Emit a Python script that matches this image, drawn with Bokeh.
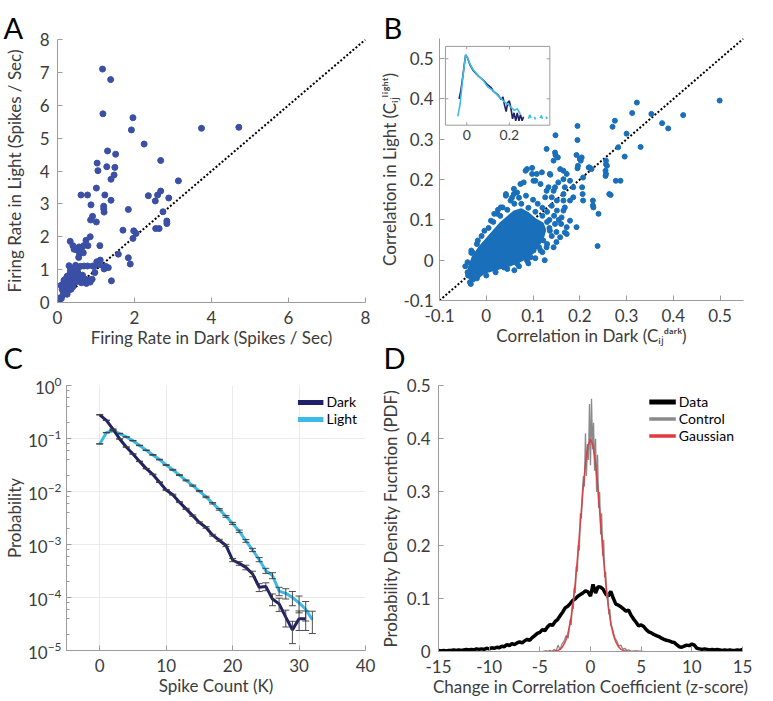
import numpy as np
from bokeh.plotting import figure
from bokeh.models import (Range1d, FixedTicker, LogTicker, CustomJSTickFormatter, GridBox,
                          Legend, LegendItem, Whisker, TeeHead, ColumnDataSource)
from bokeh.core.properties import value
from bokeh.embed import file_html
from bokeh.resources import INLINE

NaN = float("nan")

# ---------------- Panel A: firing rates ----------------
A_dark = [1.17, 1.38, 1.18, 1.96, 1.92, 3.74, 4.71, 2.25, 1.30, 1.51, 1.03, 2.68, 1.28, 1.49, 1.05,
          1.47, 1.39, 3.14, 1.01, 0.61, 0.78, 1.23, 0.87, 1.20, 1.20, 1.21, 1.39, 0.91, 0.86, 1.01,
          1.84, 2.36, 2.54, 2.60, 2.68, 2.89, 2.74, 2.84, 2.84, 2.55, 2.64, 1.70, 1.98, 2.04, 1.96,
          1.58, 1.84, 1.89, 1.40, 0.33, 0.40, 0.43, 0.85, 0.74, 1.10, 0.56, 0.68, 0.79, 0.63, 0.57,
          0.55, 0.67, 1.11, 1.02, 0.91, 0.78, 0.69, 0.47, 0.38, 0.33, 0.33, 0.36, 0.48, 0.55, 0.65,
          0.74, 0.83, 0.90, 0.97, 1.05, 1.32, 1.21, 0.17, 0.14, 0.21, 0.27, 0.33, 0.12, 0.20, 0.28,
          0.40, 0.49, 0.08, 0.18, 0.09, 0.30, 0.35, 0.42, 0.45, 0.52, 0.25, 0.22, 0.30, 0.38, 0.45,
          0.58, 0.62, 0.70, 0.75, 0.85, 0.20, 0.15, 0.05, 0.10, 0.25, 0.35, 0.60, 0.95, 1.10, 1.25,
          0.50, 0.62]
A_light = [7.10, 6.78, 5.74, 5.62, 5.25, 5.30, 5.33, 4.82, 4.61, 4.51, 4.24, 4.32, 4.13, 4.11, 4.01,
           3.88, 3.75, 3.70, 3.48, 3.27, 3.27, 3.27, 2.97, 2.93, 2.85, 2.75, 3.11, 2.62, 2.51, 2.45,
           2.83, 3.25, 3.09, 3.27, 3.39, 3.18, 2.76, 2.48, 2.40, 2.25, 2.25, 2.20, 2.18, 2.10, 1.95,
           1.47, 1.36, 1.17, 0.66, 1.86, 1.73, 1.62, 2.00, 1.89, 1.73, 1.69, 1.73, 1.73, 1.55, 1.49,
           1.37, 1.51, 1.29, 1.24, 1.11, 1.11, 1.11, 1.13, 1.02, 1.06, 0.92, 0.76, 0.78, 0.86, 0.83,
           0.70, 0.68, 0.71, 0.91, 1.20, 1.06, 1.02, 0.68, 0.56, 0.48, 0.60, 0.68, 0.40, 0.33, 0.37,
           0.48, 0.63, 0.15, 0.27, 0.52, 1.12, 0.98, 0.88, 1.05, 0.95, 0.80, 0.72, 0.55, 0.60, 0.70,
           0.70, 0.60, 0.62, 0.58, 0.62, 0.45, 0.30, 0.08, 0.12, 0.25, 0.40, 1.10, 1.10, 1.15, 1.10,
           1.60, 1.65]
A_unity = [0, 8]
A_xticks = [0, 2, 4, 6, 8]
A_yticks = [0, 1, 2, 3, 4, 5, 6, 7, 8]

# ---------------- Panel B: pairwise correlations ----------------
B_dark = [0.195, 0.148, 0.195, 0.129, 0.148, 0.153, 0.193, 0.204, 0.202, 0.195, 0.219, 0.225, 0.207,
          0.205, 0.206, 0.228, 0.229, 0.240, 0.238, 0.256, 0.258, 0.255, 0.255, 0.266, 0.277, 0.287,
          0.270, 0.275, 0.282, 0.296, 0.300, 0.312, 0.322, 0.330, 0.353, 0.376, 0.389, 0.421, 0.499,
          0.087, 0.098, 0.108, 0.119, 0.105, 0.136, 0.165, 0.172, 0.179, 0.168, 0.154, 0.147, 0.129,
          0.140, 0.165, 0.179, 0.186, 0.168, 0.151, 0.161, 0.172, 0.168, 0.136, 0.147, 0.122, 0.113,
          0.101, 0.087, -0.032, -0.035, -0.033, 0.080, 0.059, 0.042, 0.035, 0.024, -0.004,
          0.084, 0.098, 0.137, 0.144, 0.147, 0.158, 0.165, 0.186, 0.196, 0.200, 0.207, 0.221, 0.228,
          0.256, 0.263, 0.256, 0.042, 0.066, 0.017, 0.031, 0.010, -0.018, -0.032, -0.039, 0.151,
          0.165, 0.179, 0.193, 0.172, 0.158, 0.144, 0.116, 0.129, 0.095, 0.066, 0.038, 0.165, 0.126,
          0.144, 0.133, 0.116, 0.101, 0.073, 0.059, 0.052,
          0.130, 0.135, 0.140, 0.130, 0.120, 0.105, 0.090, 0.070, 0.045, 0.020, 0.000, -0.020,
          -0.040, -0.040, -0.030, -0.020, -0.010, 0.005, 0.015, 0.030, 0.045, 0.060, 0.075, 0.090,
          0.105, 0.120, 0.135, 0.145, 0.120, 0.100, 0.085, 0.070, 0.150, 0.150, 0.125, 0.060,
          -0.025, 0.130, 0.110, 0.055, 0.025, -0.045, 0.160, 0.155, 0.140]
B_light = [0.333, 0.310, 0.298, 0.276, 0.261, 0.255, 0.261, 0.255, 0.247, 0.228, 0.230, 0.226, 0.205,
           0.181, 0.164, 0.148, 0.131, 0.115, 0.035, 0.247, 0.234, 0.222, 0.209, 0.162, 0.197, 0.197,
           0.331, 0.346, 0.280, 0.257, 0.314, 0.365, 0.391, 0.281, 0.363, 0.340, 0.327, 0.360, 0.396,
           0.226, 0.214, 0.214, 0.218, 0.197, 0.214, 0.222, 0.214, 0.197, 0.181, 0.193, 0.181, 0.172,
           0.156, 0.148, 0.148, 0.156, 0.131, 0.123, 0.106, 0.065, 0.069, 0.073, 0.090, 0.049, 0.032,
           0.024, -0.001, 0.018, -0.055, -0.059, 0.193, 0.164, 0.160, 0.131, 0.115, 0.073,
           0.222, 0.229, 0.212, 0.247, 0.267, 0.226, 0.201, 0.181, 0.234, 0.251, 0.148, 0.230, 0.136,
           0.238, 0.164, 0.214, 0.164, 0.168, 0.115, 0.131, 0.098, 0.049, 0.024, -0.038, 0.148,
           0.123, 0.098, 0.082, 0.082, 0.057, 0.032, 0.024, 0.032, 0.007, -0.009, -0.018, 0.164, 0.156,
           0.172, 0.181, 0.189, 0.197, 0.189, 0.177, 0.148,
           0.095, 0.080, 0.060, 0.040, 0.020, 0.005, -0.008, -0.015, -0.022, -0.030, -0.038, -0.045,
           -0.030, -0.005, 0.020, 0.040, 0.060, 0.080, 0.095, 0.110, 0.125, 0.140, 0.140, 0.130,
           0.120, 0.110, 0.100, 0.110, 0.130, 0.150, 0.160, 0.155, 0.070, 0.045, 0.000, -0.025,
           -0.010, 0.120, 0.140, 0.155, 0.125, -0.015, 0.090, 0.100, 0.135]
# outline of the saturated core of the cloud
B_core_dark = [-0.035, -0.028, -0.005, 0.020, 0.050, 0.075, 0.095, 0.110, 0.120, 0.125, 0.120,
               0.105, 0.090, 0.075, 0.060, 0.045, 0.030, 0.015, 0.000, -0.015, -0.028, -0.037]
B_core_light = [-0.045, -0.052, -0.030, -0.022, -0.012, 0.000, 0.015, 0.035, 0.055, 0.075, 0.090,
                0.100, 0.115, 0.125, 0.120, 0.105, 0.090, 0.070, 0.050, 0.030, 0.008, -0.020]
B_unity = [-0.1, 0.55]
B_ticks = [-0.1, 0, 0.1, 0.2, 0.3, 0.4, 0.5]

# inset: distribution of correlations (log10 probability)
inset_c_dark = [-0.036, -0.028, -0.020, -0.011, -0.005, 0.003, 0.015, 0.031, 0.054, 0.077, 0.100,
                0.115, 0.123, 0.146, 0.162, 0.170, 0.177, 0.185, 0.192, 0.200, 0.208, 0.215, 0.222,
                0.230, 0.237, 0.245, 0.252, 0.260, 0.267]
inset_logp_dark = [-2.00, -1.80, -1.50, -1.12, -0.90, -0.97, -1.15, -1.30, -1.43, -1.53, -1.66, -1.72,
                   -1.80, -1.90, -2.02, -1.95, -2.15, -2.32, -2.10, -2.05, -2.25, -2.50, -2.35, -2.55,
                   -2.35, -2.55, -2.40, -2.55, -2.45]
inset_c_light = [-0.042, -0.031, -0.020, -0.011, -0.005, 0.003, 0.015, 0.031, 0.054, 0.077, 0.100,
                 0.123, 0.146, 0.162, 0.177, 0.192, 0.208, 0.223, 0.238, 0.251, NaN, 0.290, 0.296,
                 0.302, NaN, 0.318, 0.322, NaN, 0.345, 0.350, 0.355, NaN, 0.372, 0.378]
inset_logp_light = [-2.44, -2.13, -1.54, -1.13, -0.90, -0.96, -1.13, -1.28, -1.42, -1.54, -1.71,
                    -1.79, -1.92, -2.00, -2.08, -2.13, -2.21, -2.29, -2.25, -2.38, NaN, -2.50, -2.40,
                    -2.48, NaN, -2.45, -2.52, NaN, -2.48, -2.42, -2.50, NaN, -2.45, -2.50]
inset_xticks = [0, 0.2]
inset_xticklabels = ["0", "0.2"]
inset_yticks = [-1, -2]
inset_xlim = [-0.1, 0.39]
inset_ylim = [-2.66, -0.69]

# ---------------- Panel C: spike count distribution ----------------
C_k_dark = [0, 1, 2, 3, 4, 5, 6, 7, 8, 9, 10, 11, 12, 13, 14, 15, 16, 17, 18, 19, 20, 21, 22, 23,
            24, 25, 26, 27, 28, 29, 30, 31]
C_p_dark = [0.28, 0.22, 0.15, 0.098, 0.069, 0.051, 0.037, 0.027, 0.021, 0.015, 0.0107, 0.0087,
            0.0063, 0.0047, 0.0035, 0.0026, 0.0021, 0.0015, 0.0012, 0.00096, 0.00051, 0.00044,
            0.00037, 0.00028, 0.000156, 0.000162, 0.0000934, 0.0000759, 0.0000427, 0.0000245,
            0.0000398, 0.0000398]
C_relerr_dark = [0.01, 0.01, 0.01, 0.01, 0.01, 0.01, 0.01, 0.01, 0.015, 0.015, 0.02, 0.02, 0.02,
                 0.025, 0.03, 0.03, 0.035, 0.04, 0.045, 0.05, 0.07, 0.08, 0.1, 0.12, 0.17, 0.17,
                 0.25, 0.28, 0.35, 0.45, 0.4, 0.4]
C_k_light = [0, 1, 2, 3, 4, 5, 6, 7, 8, 9, 10, 11, 12, 13, 14, 15, 16, 17, 18, 19, 20, 21, 22, 23,
             24, 25, 26, 27, 28, 29, 30, 31, 32]
C_p_light = [0.079, 0.129, 0.14, 0.124, 0.107, 0.091, 0.074, 0.060, 0.049, 0.040, 0.0316, 0.0257,
             0.0204, 0.0162, 0.0129, 0.0102, 0.0079, 0.0060, 0.0046, 0.0034, 0.0025, 0.00178,
             0.00117, 0.00079, 0.00052, 0.00032, 0.00026, 0.000132, 0.00012, 0.0001, 0.000079,
             0.00006, 0.000038]
C_relerr_light = [0.01, 0.01, 0.01, 0.01, 0.01, 0.01, 0.01, 0.01, 0.015, 0.015, 0.015, 0.02, 0.02,
                  0.02, 0.025, 0.025, 0.03, 0.03, 0.035, 0.04, 0.045, 0.05, 0.06, 0.07, 0.09, 0.11,
                  0.13, 0.18, 0.22, 0.3, 0.35, 0.4, 0.45]
C_xticks = [0, 10, 20, 30, 40]

# ---------------- Panel D: change in correlation (z-score) ----------------
D_data_z = [-15.0, -14.75, -14.5, -14.25, -14.0, -13.75, -13.5, -13.25, -13.0, -12.75, -12.5, -12.25,
            -12.0, -11.75, -11.5, -11.25, -11.0, -10.75, -10.5, -10.25, -10.0, -9.75, -9.5, -9.25,
            -9.0, -8.75, -8.5, -8.25, -8.0, -7.75, -7.5, -7.25, -7.0, -6.75, -6.5, -6.25, -6.0,
            -5.75, -5.5, -5.25, -5.0, -4.75, -4.5, -4.25, -4.0, -3.75, -3.5, -3.25, -3.0, -2.75,
            -2.5, -2.25, -2.0, -1.75, -1.5, -1.25, -1.0, -0.75, -0.5, -0.25, 0.0, 0.25, 0.5, 0.75,
            1.0, 1.25, 1.5, 1.75, 2.0, 2.25, 2.5, 2.75, 3.0, 3.25, 3.5, 3.75, 4.0, 4.25, 4.5, 4.75,
            5.0, 5.25, 5.5, 5.75, 6.0, 6.25, 6.5, 6.75, 7.0, 7.25, 7.5, 7.75, 8.0, 8.25, 8.5, 8.75,
            9.0, 9.25, 9.5, 9.75, 10.0, 10.25, 10.5, 10.75, 11.0, 11.25, 11.5, 11.75, 12.0, 12.25,
            12.5, 12.75, 13.0, 13.25, 13.5, 13.75, 14.0, 14.25, 14.5, 14.75, 15.0]
D_data_pdf = [0.002, 0.001, 0.002, 0.001, 0.002, 0.002, 0.003, 0.002, 0.003, 0.002, 0.003, 0.004,
              0.003, 0.004, 0.003, 0.005, 0.004, 0.005, 0.004, 0.006, 0.005,
              0.007, 0.006, 0.008, 0.007, 0.010, 0.009, 0.013, 0.011, 0.015, 0.013, 0.016, 0.018,
              0.016, 0.020, 0.023, 0.021, 0.026, 0.030, 0.034, 0.036,
              0.041, 0.039, 0.046, 0.051, 0.049, 0.056, 0.060, 0.067, 0.074, 0.082, 0.085, 0.090,
              0.096, 0.099, 0.104, 0.107, 0.110, 0.114, 0.112, 0.104,
              0.126, 0.110, 0.122, 0.121, 0.117, 0.108, 0.104, 0.113, 0.100, 0.089, 0.087, 0.084,
              0.080, 0.076, 0.078, 0.068, 0.061, 0.055, 0.048, 0.050,
              0.047, 0.041, 0.037, 0.035, 0.032, 0.030, 0.028, 0.025, 0.023, 0.021, 0.020, 0.018,
              0.017, 0.013, 0.009, 0.008, 0.010, 0.012, 0.011, 0.014,
              0.012, 0.006, 0.005, 0.004, 0.005, 0.004, 0.003, 0.004, 0.003, 0.004, 0.003, 0.002,
              0.003, 0.002, 0.003, 0.002, 0.002, 0.003, 0.002, 0.004]
D_ctrl_z = [-4.6, -4.4, -4.2, -4.0, -3.8, -3.6, -3.4, -3.2, -3.0, -2.8, -2.6, -2.4, -2.2, -2.0,
            -1.9, -1.8, -1.7, -1.6, -1.5, -1.4, -1.3, -1.2, -1.1, -1.0, -0.9, -0.8, -0.7, -0.6,
            -0.5, -0.4, -0.3, -0.2, -0.1, 0.0, 0.1, 0.2, 0.3, 0.4, 0.5, 0.6, 0.7, 0.8, 0.9, 1.0,
            1.1, 1.2, 1.3, 1.4, 1.5, 1.6, 1.7, 1.8, 1.9, 2.0, 2.2, 2.4, 2.6, 2.8, 3.0, 3.2, 3.4,
            3.6, 3.8, 4.0, 4.4, 5.0]
D_ctrl_pdf = [0.000, 0.001, 0.000, 0.002, 0.000, 0.004, 0.001, 0.012, 0.003, 0.015, 0.020, 0.030,
              0.025, 0.060, 0.050, 0.090, 0.080, 0.120, 0.110, 0.160, 0.150, 0.200, 0.190, 0.260,
              0.250, 0.300, 0.330, 0.310, 0.410, 0.330, 0.390, 0.360, 0.465, 0.350, 0.475, 0.380,
              0.430, 0.340, 0.400, 0.300, 0.370, 0.270, 0.300, 0.220, 0.260, 0.180, 0.210, 0.140,
              0.150, 0.100, 0.110, 0.070, 0.080, 0.050, 0.040, 0.025, 0.020, 0.010, 0.012, 0.004,
              0.006, 0.002, 0.003, 0.000, 0.001, 0.000]
D_gauss_z = [-4.75, -4.5, -4.25, -4.0, -3.75, -3.5, -3.25, -3.0, -2.75, -2.5, -2.25, -2.0, -1.75,
             -1.5, -1.25, -1.0, -0.75, -0.5, -0.25, 0.0, 0.25, 0.5, 0.75, 1.0, 1.25, 1.5, 1.75, 2.0,
             2.25, 2.5, 2.75, 3.0, 3.25, 3.5, 3.75, 4.0, 4.25, 4.5, 4.75, 5.0, 5.25]
D_gauss_pdf = [0.000, 0.000, 0.000, 0.000, 0.000, 0.001, 0.002, 0.004, 0.009, 0.018, 0.032, 0.054,
               0.086, 0.130, 0.183, 0.242, 0.301, 0.352, 0.387, 0.399, 0.387, 0.352, 0.301, 0.242,
               0.183, 0.130, 0.086, 0.054, 0.032, 0.018, 0.009, 0.004, 0.002, 0.001, 0.000, 0.000,
               0.000, 0.000, 0.000, 0.000, 0.000]
D_xticks = [-15, -10, -5, 0, 5, 10, 15]
D_yticks = [0, 0.1, 0.2, 0.3, 0.4, 0.5]

panel_letters = ["A", "B", "C", "D"]

# ---------------- styling ----------------
FONT = "Lato"
AXC = "#9c9c9c"
TXT = "#3c3c3c"
A_BLUE = "#3b4fa5"
B_BLUE = "#1a6fba"
NAVY = "#1f2169"
CYAN = "#3cbbe9"
W, H = 773, 701

dec1 = CustomJSTickFormatter(code="return Math.abs(tick) < 1e-9 ? '0' : tick.toFixed(1);")
int0 = CustomJSTickFormatter(code="return tick.toFixed(0);")


def base_fig(width, height, left, right, top, bottom, tick_standoff, ylab_standoff, **kw):
    p = figure(width=width, height=height, output_backend="svg", toolbar_location=None, tools="",
               min_border_left=left, min_border_right=right, min_border_top=top,
               min_border_bottom=bottom, frame_align=False, **kw)
    p.outline_line_color = None
    p.background_fill_color = "white"
    p.border_fill_color = "white"
    p.xgrid.grid_line_color = None
    p.ygrid.grid_line_color = None
    for ax in p.axis:
        ax.axis_line_color = AXC
        ax.major_tick_line_color = AXC
        ax.minor_tick_line_color = None
        ax.major_tick_in = 5
        ax.major_tick_out = 0
        ax.major_label_text_font = FONT
        ax.major_label_text_font_size = "17px"
        ax.major_label_text_color = TXT
        ax.axis_label_text_font = FONT
        ax.axis_label_text_font_size = "17px"
        ax.axis_label_text_font_style = "normal"
        ax.axis_label_text_color = TXT
    p.xaxis.major_label_standoff = 8
    p.xaxis.axis_label_standoff = 0
    p.yaxis.major_label_standoff = tick_standoff
    p.yaxis.axis_label_standoff = ylab_standoff
    return p


def legend_for(p, entries, gw, gh):
    items = []
    for lab, col, lw in entries:
        r = p.line([NaN, NaN], [NaN, NaN], line_color=col, line_width=lw)
        items.append(LegendItem(label=lab, renderers=[r]))
    lg = Legend(items=items, location="top_right", margin=8, padding=2, spacing=0,
                glyph_width=gw, glyph_height=gh, label_height=gh, label_standoff=3,
                border_line_color=None, background_fill_alpha=0, label_text_font=FONT,
                label_text_font_size="14px", label_text_color="black")
    p.add_layout(lg)


# ---- Panel A ----
pA = base_fig(376, 360, 53, 11, 39, 58, 8, 12, x_range=Range1d(0, 8), y_range=Range1d(0, 8))
pA.line(A_unity, A_unity, line_color="black", line_width=2, line_dash="2 2")
pA.scatter(A_dark, A_light, size=6, fill_color=A_BLUE, line_color=A_BLUE)
pA.xaxis.ticker = FixedTicker(ticks=A_xticks)
pA.yaxis.ticker = FixedTicker(ticks=A_yticks)
pA.xaxis.axis_label = "Firing Rate in Dark (Spikes / Sec)"
pA.yaxis.axis_label = "Firing Rate in Light (Spikes / Sec)"

# ---- Panel B ----
pB = base_fig(397, 360, 58, 30, 38, 60, 6, 0, x_range=Range1d(-0.1, 0.55), y_range=Range1d(-0.1, 0.55))
# inset axes mapped inside B's frame (frame spans page px 434..743 by 38..300)
fx0, fx1, fy0, fy1 = 434.0, 743.0, 38.0, 300.0
ix_origin, ix_scale = 461.7, 216.5
iy_origin, iy_scale = 58.3, 40.0
pB.extra_x_ranges = {"ix": Range1d((fx0 - ix_origin) / ix_scale, (fx1 - ix_origin) / ix_scale)}
pB.extra_y_ranges = {"iy": Range1d(-1 - (fy1 - iy_origin) / iy_scale, -1 + (iy_origin - fy0) / iy_scale)}

pB.line(B_unity, B_unity, line_color="black", line_width=2, line_dash="2 2")
pB.patch(B_core_dark, B_core_light, fill_color=B_BLUE, line_color=B_BLUE, line_width=3)
pB.scatter(B_dark, B_light, size=5, fill_color=B_BLUE, line_color=B_BLUE)
pB.xaxis.ticker = FixedTicker(ticks=B_ticks)
pB.yaxis.ticker = FixedTicker(ticks=B_ticks)
pB.xaxis.formatter = dec1
pB.yaxis.formatter = dec1
pB.xaxis.axis_label = "Correlation in Dark (C\u1d62\u2c7c\u1d48\u1d43\u02b3\u1d4f)"
pB.yaxis.axis_label = "Correlation in Light (C\u1d62\u2c7c\u02e1\u2071\u1d4d\u02b0\u1d57)"

ikw = dict(x_range_name="ix", y_range_name="iy")
pB.quad(left=[inset_xlim[0]], right=[inset_xlim[1]], bottom=[inset_ylim[0]], top=[inset_ylim[1]],
        fill_color="white", line_color=AXC, line_width=1, **ikw)
tlx = 3.0 / ix_scale
tly = 3.0 / iy_scale
pB.segment(x0=inset_xticks, x1=inset_xticks, y0=[inset_ylim[0]] * 2, y1=[inset_ylim[0] + tly] * 2,
           line_color=AXC, **ikw)
pB.segment(x0=inset_xticks, x1=inset_xticks, y0=[inset_ylim[1]] * 2, y1=[inset_ylim[1] - tly] * 2,
           line_color=AXC, **ikw)
pB.segment(x0=[inset_xlim[0]] * 2, x1=[inset_xlim[0] + tlx] * 2, y0=inset_yticks, y1=inset_yticks,
           line_color=AXC, **ikw)
pB.segment(x0=[inset_xlim[1]] * 2, x1=[inset_xlim[1] - tlx] * 2, y0=inset_yticks, y1=inset_yticks,
           line_color=AXC, **ikw)
pB.line(np.array(inset_c_dark), np.array(inset_logp_dark), line_color=NAVY, line_width=1.6, **ikw)
pB.line(np.array(inset_c_light), np.array(inset_logp_light), line_color=CYAN, line_width=1.6, **ikw)
pB.text(x=inset_xticks, y=[inset_ylim[0]] * 2, text=inset_xticklabels, text_align="center",
        text_baseline="top", y_offset=5, text_font=value(FONT), text_font_size="14px",
        text_color=TXT, **ikw)

# ---- Panel C ----
pC = base_fig(376, 341, 55, 11, 25, 51, 5, 0, x_range=Range1d(-5, 40), y_range=Range1d(1e-5, 1),
              y_axis_type="log")
pC.xgrid.grid_line_color = "#ebebeb"
pC.ygrid.grid_line_color = "#ebebeb"
pC.xaxis.ticker = FixedTicker(ticks=C_xticks)
pC.xgrid.ticker = FixedTicker(ticks=C_xticks)
pC.yaxis.ticker = LogTicker(mantissas=[1], desired_num_ticks=6)
pC.yaxis.minor_tick_line_color = AXC
pC.yaxis.minor_tick_in = 3
pC.yaxis.minor_tick_out = 0
pC.xaxis.axis_label = "Spike Count (K)"
pC.yaxis.axis_label = "Probability"
pC.line(C_k_light, C_p_light, line_color=CYAN, line_width=3)
pC.line(C_k_dark, C_p_dark, line_color=NAVY, line_width=3)
for ks, ps, es in ((C_k_light, C_p_light, C_relerr_light), (C_k_dark, C_p_dark, C_relerr_dark)):
    src = ColumnDataSource(dict(k=ks, lo=[p * (1 - e) for p, e in zip(ps, es)],
                                hi=[p * (1 + e) for p, e in zip(ps, es)]))
    pC.add_layout(Whisker(source=src, base="k", lower="lo", upper="hi", level="overlay",
                          line_color="#3a3a3a", line_width=0.9,
                          upper_head=TeeHead(size=7, line_color="#3a3a3a", line_width=0.9),
                          lower_head=TeeHead(size=7, line_color="#3a3a3a", line_width=0.9)))
legend_for(pC, [("Dark", NAVY, 5), ("Light", CYAN, 5)], 26, 16)

# ---- Panel D ----
pD = base_fig(397, 341, 56, 31, 25, 50, 8, 3, x_range=Range1d(-15, 15), y_range=Range1d(0, 0.5))
pD.xaxis.ticker = FixedTicker(ticks=D_xticks)
pD.yaxis.ticker = FixedTicker(ticks=D_yticks)
pD.xaxis.formatter = int0
pD.yaxis.formatter = dec1
pD.xaxis.axis_label = "Change in Correlation Coefficient (z-score)"
pD.yaxis.axis_label = "Probability Density Fucntion (PDF)"
pD.line(D_data_z, D_data_pdf, line_color="black", line_width=3.5)
pD.line(D_ctrl_z, D_ctrl_pdf, line_color="#8a8a8a", line_width=1.3)
pD.line(D_gauss_z, D_gauss_pdf, line_color="#e0393e", line_width=1.6, line_alpha=0.9)
legend_for(pD, [("Data", "black", 5), ("Control", "#8a8a8a", 3.5), ("Gaussian", "#e0393e", 3.5)], 27, 15)

# ---- transparent overlay carrying the panel letters ----
pL = figure(width=W, height=H, x_range=Range1d(0, W), y_range=Range1d(H, 0), output_backend="svg",
            toolbar_location=None, tools="", min_border=0, x_axis_location=None,
            y_axis_location=None, frame_align=False)
pL.outline_line_color = None
pL.background_fill_color = None
pL.border_fill_color = None
pL.xgrid.grid_line_color = None
pL.ygrid.grid_line_color = None
pL.text(x=[3, 383, 3, 383], y=[27, 27, 357, 357], text=panel_letters, text_font=value(FONT),
        text_font_size="29px", text_baseline="alphabetic", text_align="left", text_color="black")

layout = GridBox(children=[(pA, 0, 0), (pB, 0, 1), (pC, 1, 0), (pD, 1, 1), (pL, 0, 0, 2, 2)],
                 spacing=0)
open("out.html", "w").write(file_html(layout, INLINE))
